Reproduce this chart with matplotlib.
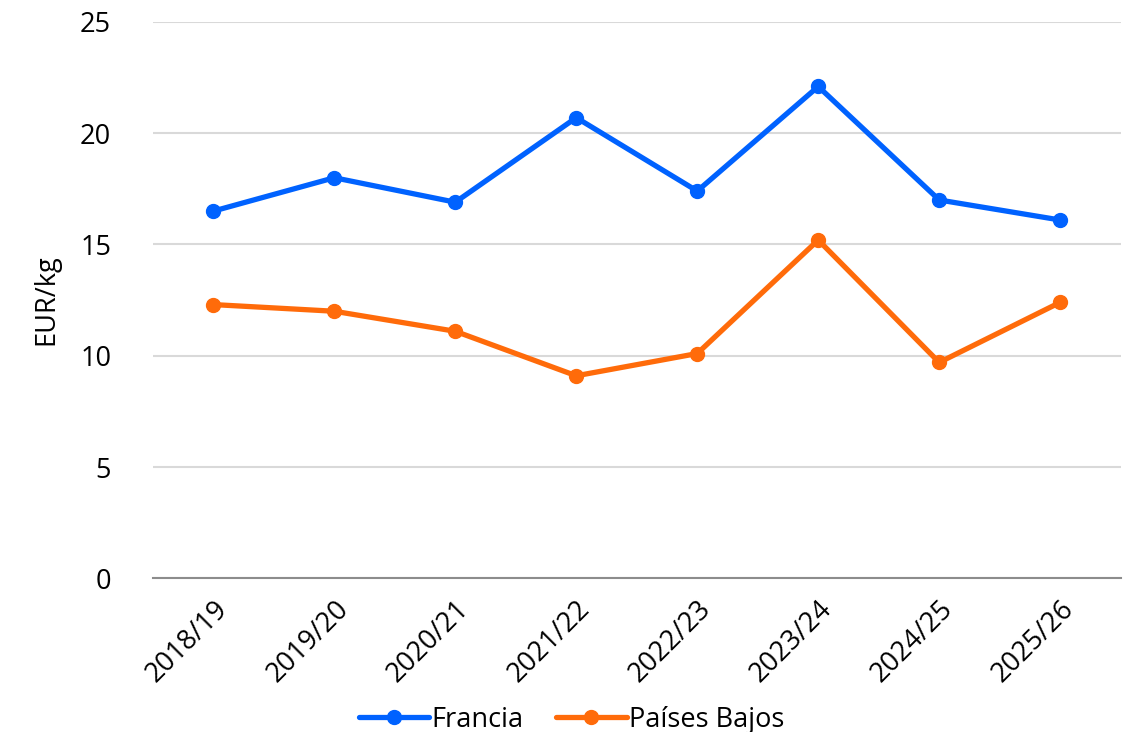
import matplotlib
matplotlib.use("Agg")
import matplotlib.pyplot as plt

temporadas = ["2018/19", "2019/20", "2020/21", "2021/22", "2022/23", "2023/24", "2024/25", "2025/26"]
francia = [16.5, 18.0, 16.9, 20.7, 17.4, 22.1, 17.0, 16.1]
paises_bajos = [12.3, 12.0, 11.1, 9.1, 10.1, 15.2, 9.7, 12.4]
y_ticks = [0, 5, 10, 15, 20, 25]

plt.rcParams['font.family'] = ['Open Sans', 'DejaVu Sans']

fig = plt.figure(figsize=(11.32, 7.32), dpi=100)
ax = fig.add_axes([0.135, 0.21, 0.855, 0.76])

x = list(range(len(temporadas)))
ax.plot(x, francia, color="#0062FF", lw=3.8, marker="o", ms=10, label="Francia",
        solid_capstyle="round")
ax.plot(x, paises_bajos, color="#FF6B0A", lw=3.8, marker="o", ms=10, label="Países Bajos",
        solid_capstyle="round")

ax.set_xlim(-0.5, len(temporadas) - 0.5)
ax.set_ylim(0, 25)
ax.set_yticks(y_ticks)
ax.set_xticks(x)
ax.set_xticklabels(temporadas, rotation=45, ha="right", rotation_mode="anchor")
ax.tick_params(axis="both", length=0, labelsize=19.5, colors="black")
ax.tick_params(axis="y", pad=30)
ax.tick_params(axis="x", pad=12)

ax.grid(axis="y", color="#d9d9d9", lw=1.5)
ax.set_axisbelow(True)
for s in ["top", "right", "left"]:
    ax.spines[s].set_visible(False)
ax.spines["bottom"].set_color("#8c8c8c")
ax.spines["bottom"].set_linewidth(1.5)

ax.set_ylabel("EUR/kg", fontsize=19.5, labelpad=14)

fig.legend(loc="lower center", bbox_to_anchor=(0.505, -0.036), ncol=2, frameon=False,
           fontsize=19.5, handlelength=2.6, handletextpad=0.1, columnspacing=1.2)

fig.savefig("out.png", dpi=100, facecolor="white")
